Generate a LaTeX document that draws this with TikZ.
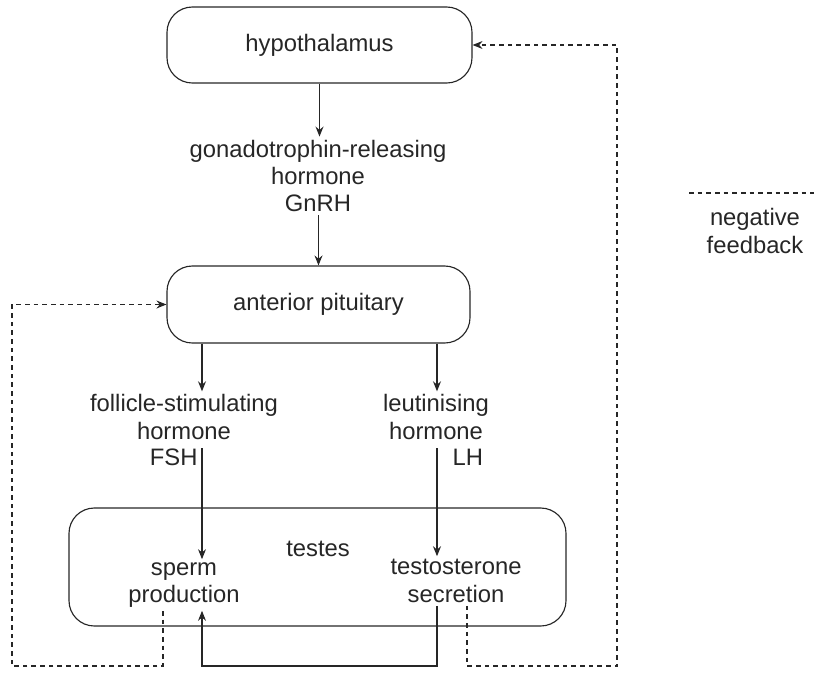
\documentclass[tikz,border=0pt]{standalone}
\usepackage{fontspec}
\setmainfont{Liberation Sans}
\usepackage{tikz}
\usetikzlibrary{arrows.meta,calc,positioning}
\tikzset{box/.style={draw, rectangle, rounded corners=19pt, inner sep=0pt}}
\tikzstyle{lbl}=[align=center, inner sep=2pt, font=\fontsize{17.85}{20.6}\selectfont]
\tikzstyle{fb}=[dash pattern=on 3.5pt off 3pt]

\begin{document}
\begin{tikzpicture}[x=0.75pt, y=-0.75pt, >={Stealth[length=7.5pt,width=6pt,inset=2.5pt]}, line width=0.85pt, color=black!85]
\useasboundingbox (0,0) rectangle (814,672);

\node[box, lbl, minimum width=228.75pt, minimum height=57pt] (hyp) at (319.5,45) {hypothalamus};
\node[lbl] (gnrh) at (318,176) {gonadotrophin-releasing\\hormone\\GnRH};
\node[box, lbl, minimum width=227.25pt, minimum height=57.75pt] (pit) at (318.5,304.5) {anterior pituitary};
\node[lbl] (fsh) at (184,417) {follicle-stimulating\\hormone};
\node[lbl, anchor=east, inner sep=0pt] (fshab) at (198,457) {FSH};
\node[lbl] (lh) at (436,417) {leutinising\\hormone};
\node[lbl, anchor=west, inner sep=0pt] (lhab) at (452,457) {LH};
\node[box, minimum width=372.75pt, minimum height=88.5pt] (testes) at (317.5,567) {};
\node[lbl] (testeslab) at (318,549) {testes};
\node[lbl] (sperm) at (184,585) {sperm\\production};
\node[lbl] (testo) at (456,581) {testosterone\\secretion};
\node[lbl] (neg) at (755,231) {negative\\feedback};

% where the lines run
\coordinate (fx) at (202,0);
\coordinate (lx) at (437,0);
\coordinate (dl) at (163,0);
\coordinate (dr) at (467,0);
\coordinate (lft) at (12,0);
\coordinate (rgt) at (617,0);
\coordinate (bot) at (0,666);
\coordinate (legl) at (689,193);
\coordinate (legr) at (814,193);

\draw[->] (hyp.south) -- (hyp.south |- gnrh.north);
\draw[->] (gnrh.south -| pit.north) -- (pit.north);
\draw[->] (pit.south -| fx) -- (fsh.north -| fx);
\draw[->] (pit.south -| lx) -- (lh.north -| lx);
\draw[->] (fshab.north -| fx) -- (sperm.north -| fx);
\draw[->] (lhab.north -| lx) -- (testo.north -| lx);
\draw[->] (testo.south -| lx) -- (bot -| lx) -- (bot -| fx) -- (sperm.south -| fx);

% negative feedback
\draw[fb,->] (sperm.south -| dl) -- (bot -| dl) -- (bot -| lft) -- (pit.west -| lft) -- (pit.west);
\draw[fb,->] (testo.south -| dr) -- (bot -| dr) -- (bot -| rgt) -- (hyp.east -| rgt) -- (hyp.east);
\draw[fb] (legl) -- (legr);
\end{tikzpicture}
\end{document}
